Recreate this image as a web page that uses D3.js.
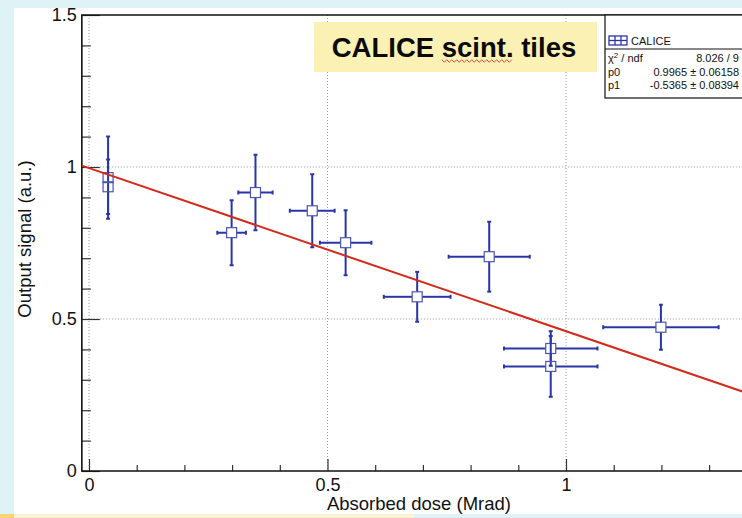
<!DOCTYPE html>
<html>
<head>
<meta charset="utf-8">
<script src="https://cdn.jsdelivr.net/npm/d3@7"></script>
<style>
  html, body { margin: 0; padding: 0; background: #dff3f7; }
  svg { display: block; font-family: "Liberation Sans", Arial, Helvetica, sans-serif; }
</style>
</head>
<body>
<svg id="chart" width="742" height="518"></svg>
<script>
// ---- data ----
const doseX   = [0.040, 0.040, 0.299, 0.349, 0.468, 0.538, 0.688, 0.839, 0.968, 0.968, 1.199];
const signalY = [0.965, 0.935, 0.784, 0.916, 0.856, 0.751, 0.573, 0.705, 0.403, 0.344, 0.473];
const errX    = [0.000, 0.000, 0.030, 0.036, 0.047, 0.054, 0.070, 0.085, 0.098, 0.098, 0.121];
const errY    = [0.135, 0.090, 0.107, 0.124, 0.120, 0.107, 0.082, 0.115, 0.057, 0.100, 0.074];
const fitP0 = 0.9965, fitP1 = -0.5365;
const xMajorTicks = [0, 0.5, 1];
const xMinorTicks = [0.1, 0.2, 0.3, 0.4, 0.6, 0.7, 0.8, 0.9, 1.1, 1.2, 1.3, 1.4];
const yMajorTicks = [0, 0.5, 1, 1.5];
const yMinorTicks = [0.1, 0.2, 0.3, 0.4, 0.6, 0.7, 0.8, 0.9, 1.1, 1.2, 1.3, 1.4];
const gridX = [0, 0.5, 1];
const gridY = [0.5, 1];
const xTitle = "Absorbed dose (Mrad)";
const yTitle = "Output signal (a.u.)";
const chartTitle = "CALICE scint. tiles";
const statsRows = [
  {label: "χ", sup: "2", rest: " / ndf", value: "8.026 / 9"},
  {label: "p0", value: "0.9965 ± 0.06158"},
  {label: "p1", value: "-0.5365 ± 0.08394"}
];
const xMin = -0.015, yMin = 0, yMax = 1.5;

(function () {
// ---- layout ----
const W = 742, H = 518;
const svg = d3.select("#chart");
const blue = "#2b36a6", red = "#d32a1c";

svg.append("rect").attr("x", 0).attr("y", 0).attr("width", W).attr("height", H).attr("fill", "#dff3f7");
svg.append("rect").attr("x", 14).attr("y", 8).attr("width", W - 14).attr("height", 506).attr("fill", "#ffffff");
svg.append("rect").attr("x", 14).attr("y", 514).attr("width", 400).attr("height", 4).attr("fill", "#fbf3d2");
svg.append("rect").attr("x", 0).attr("y", 514).attr("width", 14).attr("height", 4).attr("fill", "#f6d66e");

const x = d3.scaleLinear().domain([0, 1]).range([89, 566]);
const y = d3.scaleLinear().domain([yMin, yMax]).range([471, 15]);
const pLeft = x(xMin), pTop = y(yMax), pBottom = y(yMin), pRight = W + 10;

svg.append("defs").append("clipPath").attr("id", "plotclip")
  .append("rect").attr("x", pLeft).attr("y", pTop).attr("width", pRight - pLeft).attr("height", pBottom - pTop);

// grid
const grid = svg.append("g").attr("stroke", "#9a9a9a").attr("stroke-width", 1).attr("stroke-dasharray", "1,2");
grid.selectAll("line.gx").data(gridX).join("line").attr("class", "gx")
  .attr("x1", d => x(d)).attr("x2", d => x(d)).attr("y1", pTop).attr("y2", pBottom);
grid.selectAll("line.gy").data(gridY).join("line").attr("class", "gy")
  .attr("x1", pLeft).attr("x2", pRight).attr("y1", d => y(d)).attr("y2", d => y(d));

// axes (ticks inward)
const fmt = d => d3.format("")(d);
const xAxisMaj = d3.axisBottom(x).tickValues(xMajorTicks).tickSize(-12).tickPadding(7).tickFormat(fmt);
const xAxisMin = d3.axisBottom(x).tickValues(xMinorTicks).tickSize(-6).tickFormat("");
const yAxisMaj = d3.axisLeft(y).tickValues(yMajorTicks).tickSize(-18).tickPadding(5).tickFormat(fmt);
const yAxisMin = d3.axisLeft(y).tickValues(yMinorTicks).tickSize(-9).tickFormat("");

function styleAxis(g) {
  g.select(".domain").remove();
  g.selectAll(".tick line").attr("stroke", "#333").attr("stroke-width", 1.2);
  g.selectAll(".tick text").attr("fill", "#111").style("font-size", "18px")
    .style("font-family", "'Liberation Sans', Arial, sans-serif");
}
svg.append("g").attr("transform", `translate(0,${pBottom})`).call(xAxisMin).call(styleAxis);
svg.append("g").attr("transform", `translate(0,${pBottom})`).call(xAxisMaj).call(styleAxis);
svg.append("g").attr("transform", `translate(${pLeft},0)`).call(yAxisMin).call(styleAxis);
svg.append("g").attr("transform", `translate(${pLeft},0)`).call(yAxisMaj).call(styleAxis);

// frame
svg.append("path")
  .attr("d", `M${pRight},${pTop}H${pLeft}V${pBottom}H${pRight}`)
  .attr("fill", "none").attr("stroke", "#111").attr("stroke-width", 1.6);

// data points with errors (ROOT style: gap around hollow marker)
const plot = svg.append("g").attr("clip-path", "url(#plotclip)");
const half = 5, cap = 2;
const pts = doseX.map((d, i) => ({x: d, y: signalY[i], ex: errX[i], ey: errY[i]}));
pts.forEach(p => {
  const cx = x(p.x), cy = y(p.y);
  const g = plot.append("g").attr("stroke", blue).attr("fill", "none");
  const xl = x(p.x - p.ex), xr = x(p.x + p.ex);
  const yt = y(p.y + p.ey), yb = y(p.y - p.ey);
  if (cx - xl > half) {
    g.append("line").attr("x1", xl).attr("x2", cx - half).attr("y1", cy).attr("y2", cy).attr("stroke-width", 2);
    g.append("line").attr("x1", cx + half).attr("x2", xr).attr("y1", cy).attr("y2", cy).attr("stroke-width", 2);
    g.append("line").attr("x1", xl).attr("x2", xl).attr("y1", cy - cap).attr("y2", cy + cap).attr("stroke-width", 2);
    g.append("line").attr("x1", xr).attr("x2", xr).attr("y1", cy - cap).attr("y2", cy + cap).attr("stroke-width", 2);
  }
  if (yb - cy > half) {
    g.append("line").attr("x1", cx).attr("x2", cx).attr("y1", yt).attr("y2", cy - half).attr("stroke-width", 2);
    g.append("line").attr("x1", cx).attr("x2", cx).attr("y1", cy + half).attr("y2", yb).attr("stroke-width", 2);
    g.append("line").attr("x1", cx - cap).attr("x2", cx + cap).attr("y1", yt).attr("y2", yt).attr("stroke-width", 2);
    g.append("line").attr("x1", cx - cap).attr("x2", cx + cap).attr("y1", yb).attr("y2", yb).attr("stroke-width", 2);
  }
  g.append("rect").attr("x", cx - half).attr("y", cy - half).attr("width", 2 * half).attr("height", 2 * half)
    .attr("stroke-width", 1.2).attr("stroke", "#4a55b0");
});

// fit line
const xEnd = x.invert(pRight);
plot.append("line")
  .attr("x1", x(xMin)).attr("y1", y(fitP0 + fitP1 * xMin))
  .attr("x2", x(xEnd)).attr("y2", y(fitP0 + fitP1 * xEnd))
  .attr("stroke", red).attr("stroke-width", 2);

// axis titles
svg.append("text").attr("x", 511).attr("y", 510).attr("text-anchor", "end")
  .style("font-size", "18.5px").attr("fill", "#111").text(xTitle);
svg.append("text").attr("transform", "translate(31,239) rotate(-90)").attr("text-anchor", "middle")
  .style("font-size", "18.5px").attr("fill", "#111").text(yTitle);

// title box
svg.append("rect").attr("x", 314).attr("y", 22).attr("width", 283).attr("height", 50).attr("fill", "#fcf1b4");
const tt = svg.append("text").attr("x", 454).attr("y", 57).attr("text-anchor", "middle")
  .style("font-size", "27.5px").style("font-weight", "bold").attr("fill", "#0a0a0a").text(chartTitle);
// spell-check style wavy underline under "scint."
(function () {
  const node = tt.node();
  const s = chartTitle.indexOf("scint"), e = s + 5;
  const x0 = node.getStartPositionOfChar(s).x, x1 = node.getEndPositionOfChar(e).x;
  const wv = [];
  for (let xx = x0, k = 0; xx <= x1; xx += 2.5, k++) wv.push([xx, 61 + (k % 2 ? 1.3 : -1.3)]);
  svg.append("path").attr("d", d3.line()(wv)).attr("fill", "none").attr("stroke", "#e05040").attr("stroke-width", 1);
})();

// stats box
const sb = svg.append("g");
sb.append("rect").attr("x", 605).attr("y", pTop).attr("width", pRight - 605).attr("height", 98 - pTop)
  .attr("fill", "#fff").attr("stroke", "#111").attr("stroke-width", 1.2);
sb.append("line").attr("x1", 605).attr("x2", pRight).attr("y1", 49).attr("y2", 49).attr("stroke", "#111").attr("stroke-width", 1);
// legend icon
const ic = sb.append("g").attr("stroke", blue).attr("fill", "none").attr("stroke-width", 1.3);
ic.append("rect").attr("x", 609).attr("y", 36).attr("width", 18).attr("height", 9);
ic.append("line").attr("x1", 609).attr("x2", 627).attr("y1", 40.5).attr("y2", 40.5);
ic.append("line").attr("x1", 615).attr("x2", 615).attr("y1", 36).attr("y2", 45);
ic.append("line").attr("x1", 621).attr("x2", 621).attr("y1", 36).attr("y2", 45);
sb.append("text").attr("x", 631).attr("y", 45).style("font-size", "11px").attr("fill", "#111").text("CALICE");
const rowY = [62, 75.5, 89];
statsRows.forEach((r, i) => {
  const t = sb.append("text").attr("x", 608).attr("y", rowY[i]).style("font-size", "11px").attr("fill", "#111");
  t.append("tspan").text(r.label);
  if (r.sup) {
    t.append("tspan").attr("dy", -4).style("font-size", "8px").text(r.sup);
    t.append("tspan").attr("dy", 4).text(r.rest);
  }
  sb.append("text").attr("x", 739).attr("y", rowY[i]).attr("text-anchor", "end")
    .style("font-size", "11px").attr("fill", "#111").text(r.value);
});
})();
</script>
</body>
</html>
